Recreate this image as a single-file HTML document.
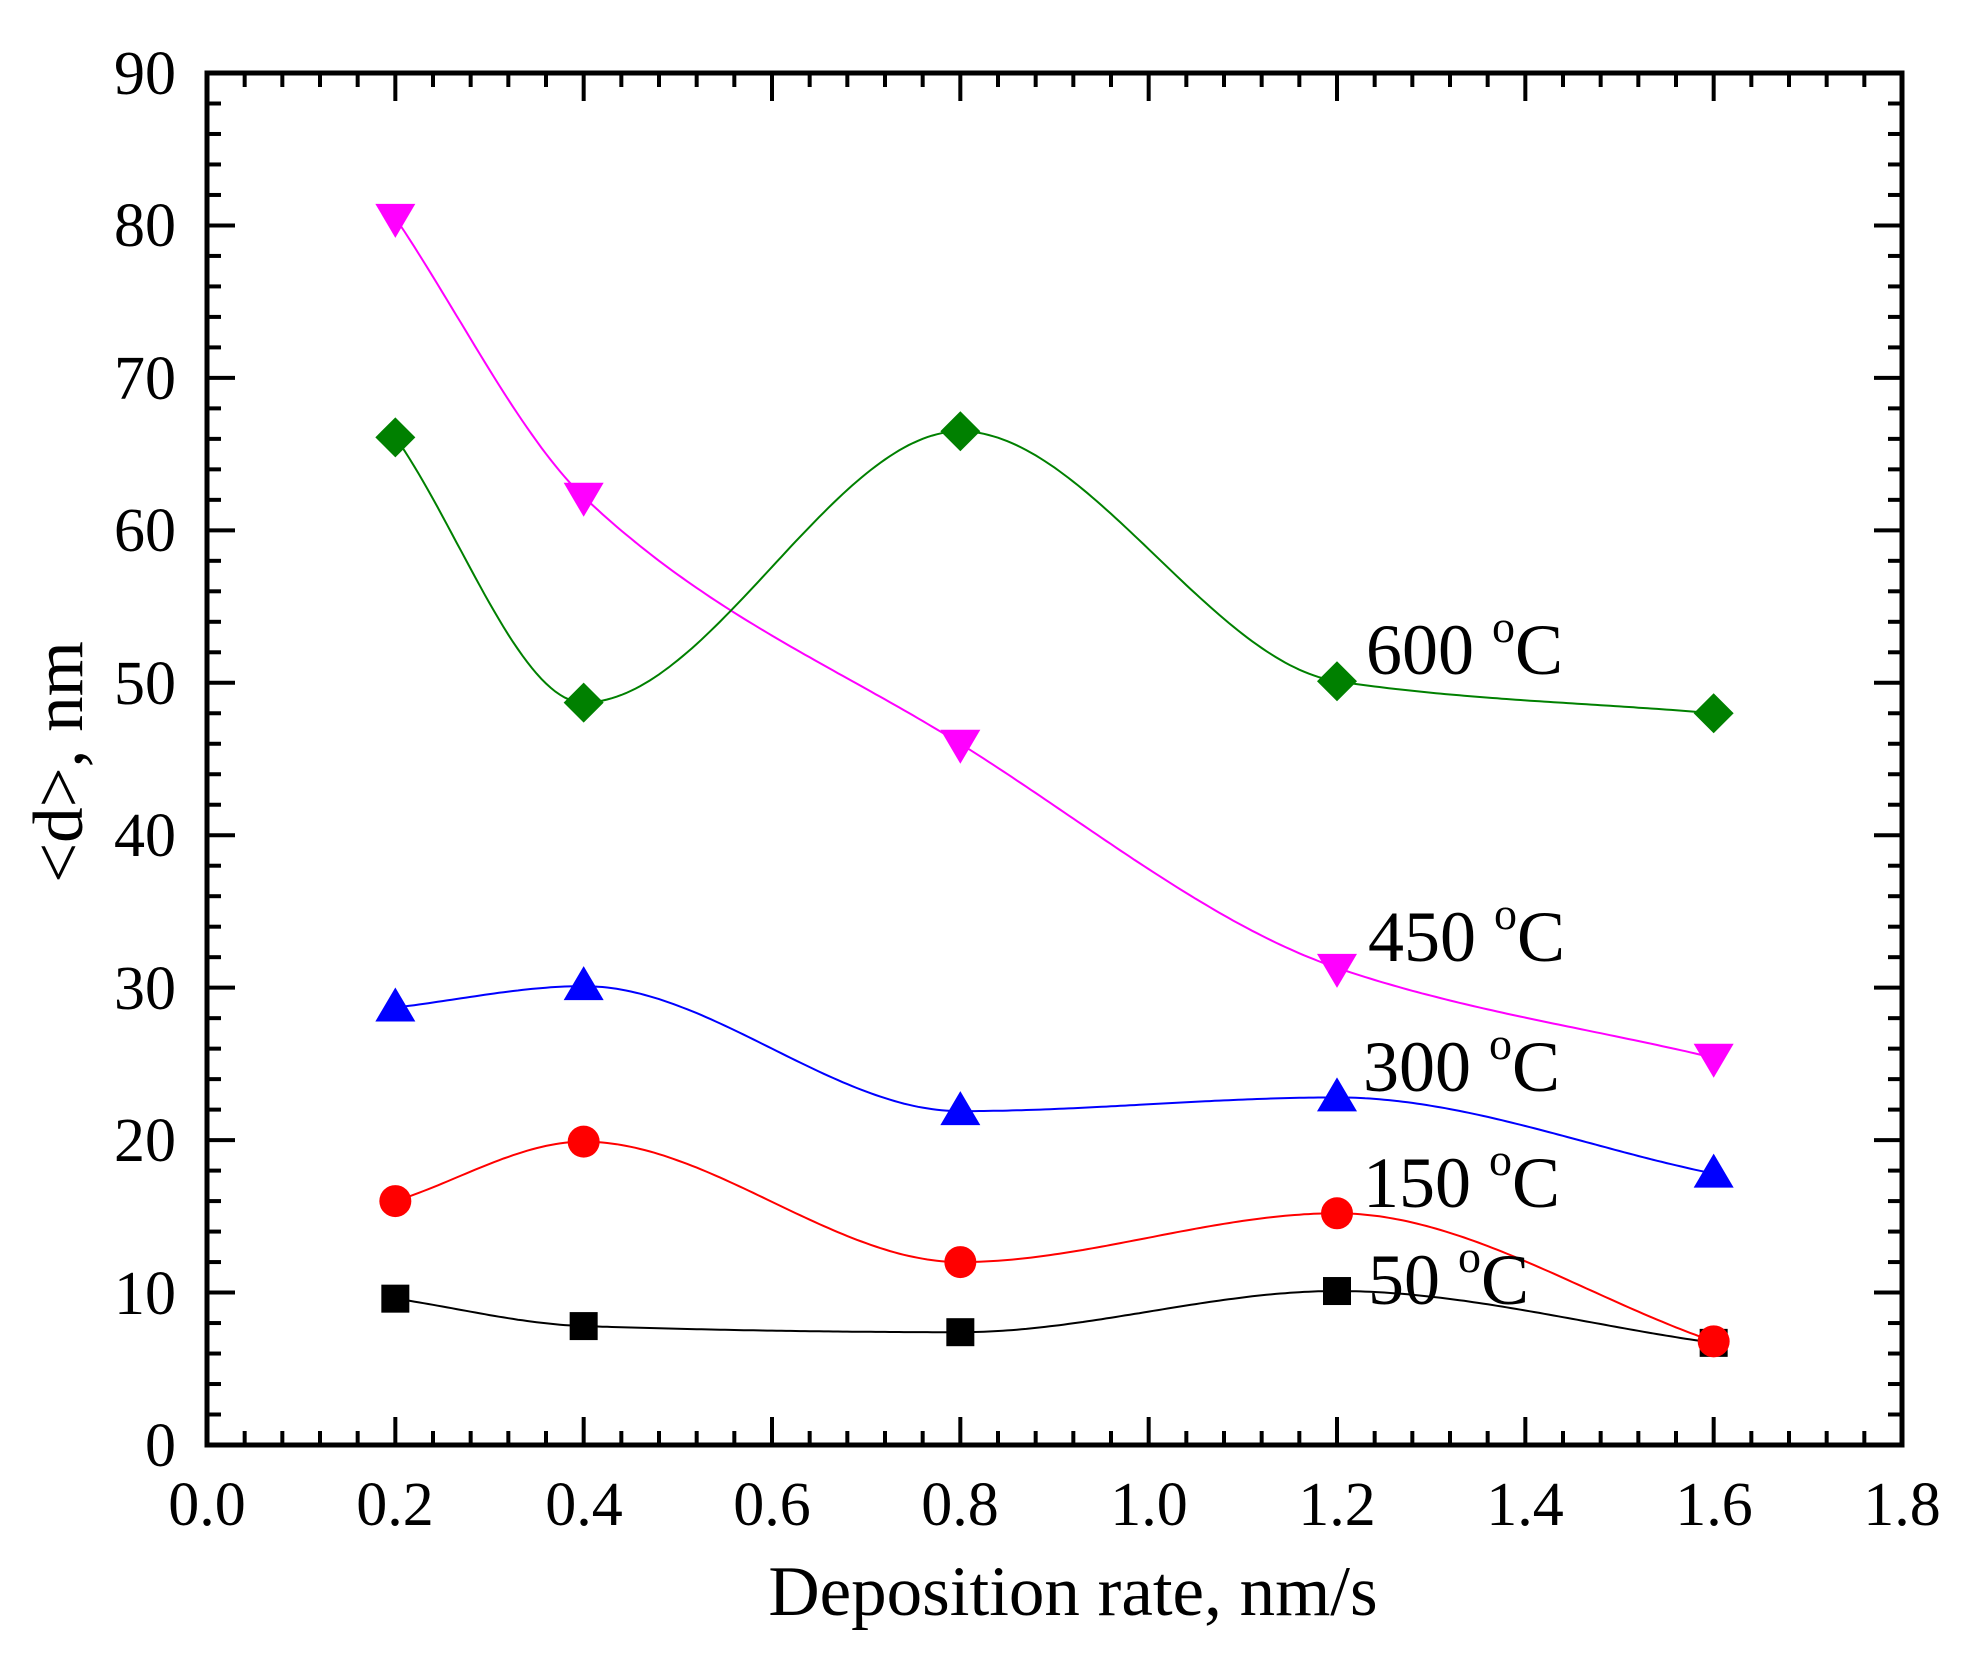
<!DOCTYPE html>
<html><head><meta charset="utf-8">
<style>
html,body{margin:0;padding:0;background:#fff;}
svg{display:block;}
text{font-family:"Liberation Serif",serif;fill:#000;}
</style></head>
<body>
<svg id="s" width="1966" height="1661" viewBox="0 0 1966 1661" xmlns="http://www.w3.org/2000/svg">
<rect width="1966" height="1661" fill="#fff"/>
<g id="ticks" stroke="#000" stroke-width="4"></g>
<g id="curves" fill="none" stroke-width="2"></g>
<g id="marks"></g>
<rect x="207" y="73" width="1695" height="1372" fill="none" stroke="#000" stroke-width="5"/>
<g font-size="62" text-anchor="middle">
<text x="207" y="1525">0.0</text><text x="395" y="1525">0.2</text><text x="584" y="1525">0.4</text>
<text x="772" y="1525">0.6</text><text x="960" y="1525">0.8</text><text x="1149" y="1525">1.0</text>
<text x="1337" y="1525">1.2</text><text x="1525" y="1525">1.4</text><text x="1714" y="1525">1.6</text>
<text x="1902" y="1525">1.8</text>
</g>
<g font-size="62" text-anchor="end">
<text x="176" y="1466">0</text><text x="176" y="1314">10</text><text x="176" y="1161">20</text>
<text x="176" y="1009">30</text><text x="176" y="856">40</text><text x="176" y="704">50</text>
<text x="176" y="551">60</text><text x="176" y="399">70</text><text x="176" y="246">80</text>
<text x="176" y="94">90</text>
</g>
<text x="1073" y="1615" font-size="71" text-anchor="middle">Deposition rate, nm/s</text>
<text transform="translate(82,762) rotate(-90)" font-size="71" text-anchor="middle">&lt;d&gt;, nm</text>
<g font-size="72">
<text x="1366" y="674">600 <tspan font-size="46" dy="-32">o</tspan><tspan dy="32">C</tspan></text>
<text x="1368" y="961">450 <tspan font-size="46" dy="-32">o</tspan><tspan dy="32">C</tspan></text>
<text x="1363" y="1091">300 <tspan font-size="46" dy="-32">o</tspan><tspan dy="32">C</tspan></text>
<text x="1363" y="1207">150 <tspan font-size="46" dy="-32">o</tspan><tspan dy="32">C</tspan></text>
<text x="1368" y="1304">50 <tspan font-size="46" dy="-32">o</tspan><tspan dy="32">C</tspan></text>
</g>
</svg>
<script>
(function(){
var NS="http://www.w3.org/2000/svg";
function X(v){return 207+v*(1695/1.8);}
function Y(v){return 1445-v*(1372/90);}
function el(p,t,a){var e=document.createElementNS(NS,t);for(var k in a)e.setAttribute(k,a[k]);p.appendChild(e);return e;}
var tk=document.getElementById('ticks');
for(var i=0;i<=45;i++){var x=X(i*0.04);var L=(i%5==0)?28:14;
 el(tk,'line',{x1:x,y1:1445,x2:x,y2:1445-L});el(tk,'line',{x1:x,y1:73,x2:x,y2:73+L});}
for(var j=0;j<=45;j++){var y=Y(j*2);var L2=(j%5==0)?28:14;
 el(tk,'line',{x1:207,y1:y,x2:207+L2,y2:y});el(tk,'line',{x1:1902,y1:y,x2:1902-L2,y2:y});}
var xs=[0.2,0.4,0.8,1.2,1.6];
var S=[
 {c:'#000000',m:'sq',y:[9.6,7.8,7.4,10.1,6.7]},
 {c:'#ff0000',m:'ci',y:[16,19.9,12,15.2,6.8]},
 {c:'#0000ff',m:'up',y:[28.7,30.1,21.9,22.8,17.8]},
 {c:'#ff00ff',m:'dn',y:[80.5,62.2,46,31.3,25.4]},
 {c:'#008000',m:'di',y:[66.1,48.7,66.5,50.1,48]}
];
function pchip(x,y){var n=x.length,h=[],dl=[],m=[];
 for(var i=0;i<n-1;i++){h[i]=x[i+1]-x[i];dl[i]=(y[i+1]-y[i])/h[i];}
 m[0]=dl[0];m[n-1]=dl[n-2];
 for(var i=1;i<n-1;i++){if(dl[i-1]*dl[i]<=0)m[i]=0;else{var w1=2*h[i]+h[i-1],w2=h[i]+2*h[i-1];m[i]=(w1+w2)/(w1/dl[i-1]+w2/dl[i]);}}
 return function(t){var k=0;while(k<n-2&&t>x[k+1])k++;var s=(t-x[k])/h[k],s2=s*s,s3=s2*s;
  return (2*s3-3*s2+1)*y[k]+(s3-2*s2+s)*h[k]*m[k]+(-2*s3+3*s2)*y[k+1]+(s3-s2)*h[k]*m[k+1];};}
var cg=document.getElementById('curves'),mg=document.getElementById('marks');
S.forEach(function(s){var f=pchip(xs,s.y);var p='';
 for(var t=0.2;t<=1.6001;t+=0.005){p+=(p?'L':'M')+X(t).toFixed(1)+','+Y(f(t)).toFixed(1);}
 el(cg,'path',{d:p,stroke:s.c});});
S.forEach(function(s){xs.forEach(function(xv,i){var cx=X(xv),cy=Y(s.y[i]);
 if(s.m=='sq')el(mg,'rect',{x:cx-14,y:cy-14,width:28,height:28,fill:s.c});
 else if(s.m=='ci')el(mg,'circle',{cx:cx,cy:cy,r:16,fill:s.c});
 else if(s.m=='up')el(mg,'polygon',{points:(cx-20)+','+(cy+14)+' '+(cx+20)+','+(cy+14)+' '+cx+','+(cy-20),fill:s.c});
 else if(s.m=='dn')el(mg,'polygon',{points:(cx-20)+','+(cy-14)+' '+(cx+20)+','+(cy-14)+' '+cx+','+(cy+20),fill:s.c});
 else el(mg,'polygon',{points:cx+','+(cy-20)+' '+(cx+20)+','+cy+' '+cx+','+(cy+20)+' '+(cx-20)+','+cy,fill:s.c});
});});
})();
</script>
</body></html>
